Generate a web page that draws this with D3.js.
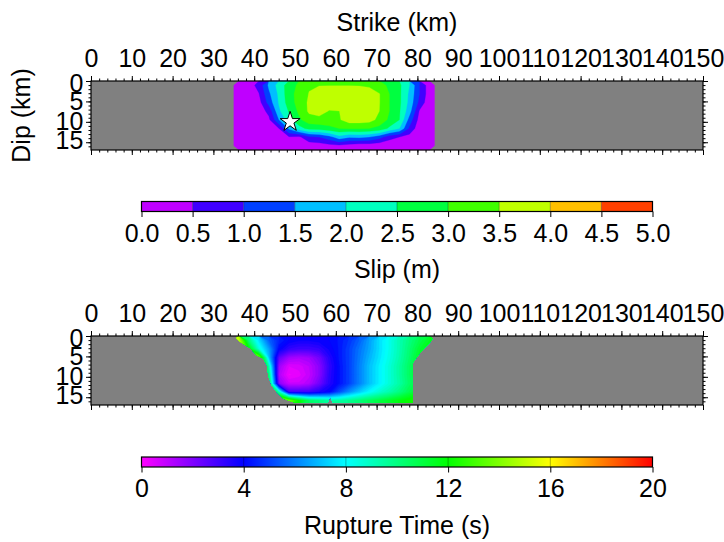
<!DOCTYPE html>
<html>
<head>
<meta charset="utf-8">
<script src="https://cdn.jsdelivr.net/npm/d3@7"></script>
<style>
  html, body { margin: 0; background: #fff; }
  text { font-family: "Liberation Sans", Arial, Helvetica, sans-serif; }
</style>
</head>
<body>
<svg id="chart" width="724" height="542"></svg>
<script>
// ---- data ----
const strikeTicks = d3.range(0, 151, 10);
const dipTicks = [0, 5, 10, 15];
const slipTicks = d3.range(0, 5.01, 0.5);
const timeTicks = [0, 4, 8, 12, 16, 20];

// fault grid: 20 cells along strike (35 -> 84.2 km), 8 cells down dip (0 -> 16.9 km)
const faultStrike = [35, 84.2];
const faultDip = [0, 16.9];

// slip (m), row 0 = shallowest
const slipRows = [
  [0.10, 0.30, 0.65, 1.60, 2.20, 2.75, 3.10, 3.45, 3.48, 3.48, 3.48, 3.48, 3.47, 3.42, 3.20, 2.90, 2.60, 2.00, 1.00, 0.20],
  [0.05, 0.20, 0.48, 1.40, 2.10, 2.80, 3.20, 3.52, 3.75, 3.80, 3.90, 3.90, 3.85, 3.75, 3.52, 3.00, 2.60, 1.90, 1.00, 0.20],
  [0.05, 0.15, 0.30, 1.20, 2.05, 2.75, 3.20, 3.58, 3.80, 3.75, 3.90, 3.95, 3.90, 3.80, 3.52, 3.00, 2.60, 1.85, 0.85, 0.15],
  [0.03, 0.10, 0.20, 0.65, 1.90, 2.55, 3.10, 3.58, 3.70, 3.47, 3.49, 3.90, 3.90, 3.80, 3.50, 3.00, 2.55, 1.70, 0.45, 0.10],
  [0.02, 0.05, 0.12, 0.40, 1.50, 2.30, 2.90, 3.30, 3.35, 3.35, 3.45, 3.75, 3.75, 3.70, 3.35, 2.90, 2.50, 1.30, 0.30, 0.05],
  [0.02, 0.03, 0.08, 0.20, 0.50, 1.60, 2.30, 2.65, 2.70, 2.85, 3.00, 3.05, 3.05, 3.00, 2.85, 2.40, 2.00, 0.90, 0.15, 0.03],
  [0.01, 0.02, 0.05, 0.08, 0.20, 0.45, 0.40, 0.90, 1.00, 1.30, 1.80, 1.55, 1.60, 1.50, 1.20, 0.70, 0.50, 0.30, 0.05, 0.02],
  [0.00, 0.01, 0.03, 0.04, 0.05, 0.10, 0.10, 0.20, 0.25, 0.35, 0.40, 0.30, 0.20, 0.20, 0.15, 0.10, 0.05, 0.03, 0.02, 0.01]
];

// rupture time (s), same grid
const timeRows = [
  [15, 10, 7.5, 5.5, 4.5, 4.0, 3.8, 3.8, 3.9, 4.0, 4.3, 4.8, 5.5, 6.5, 7.5, 8.3, 9.2, 10.0, 10.8, 11.5],
  [16, 12, 8.5, 6.5, 4.0, 3.2, 3.0, 3.0, 3.2, 3.8, 4.3, 5.0, 5.8, 6.6, 7.5, 8.3, 9.2, 10.2, 11.2, 12.0],
  [17, 18, 14, 7.0, 2.5, 1.5, 1.3, 1.5, 2.2, 3.4, 4.3, 5.0, 5.9, 6.8, 7.6, 8.4, 9.3, 10.3, 11.5, 12.5],
  [17, 17, 16, 9.0, 1.5, 0.5, 0.6, 1.0, 1.8, 3.2, 4.2, 5.0, 6.0, 7.0, 7.8, 8.6, 9.5, 10.5, 11.5, 12.5],
  [17, 17, 16, 10, 1.2, 0.2, 0.4, 0.9, 1.8, 3.3, 4.2, 5.0, 6.0, 7.0, 7.8, 8.6, 9.5, 10.5, 11.5, 12.5],
  [17, 17, 16, 11, 1.8, 0.8, 0.8, 1.2, 2.2, 3.4, 4.2, 5.0, 6.0, 7.0, 7.8, 8.6, 9.4, 10.4, 11.2, 12.0],
  [17, 17, 16, 14, 9.0, 3.0, 3.0, 3.0, 3.5, 4.0, 5.2, 6.3, 7.2, 8.0, 8.7, 9.3, 10.0, 10.8, 11.5, 12.0],
  [17, 17, 17, 16, 15, 14, 12, 10.5, 10, 9.5, 9.5, 9.8, 10.2, 10.6, 11.0, 11.4, 11.8, 12.2, 12.5, 12.5]
];

// outline of the area that ruptured (strike km, dip km)
const ruptureEdgeStrike = [35.1, 36.5, 39.0, 40.6, 42.2, 43.1, 43.5, 44.3, 45.5, 47.1, 49.6, 51.0, 58.0, 58.6, 59.3, 78.9, 78.9, 79.4, 80.6, 81.8, 83.0, 84.2];
const ruptureEdgeDip    = [0.0, 1.4, 3.0, 4.7, 5.5, 7.1, 10.0, 12.1, 13.7, 15.3, 16.2, 16.4, 16.4, 14.9, 16.4, 16.4, 6.7, 5.8, 4.2, 2.9, 1.7, 0.0];

const hypocenter = [48.8, 10.0];

// ---- drawing ----
const svg = d3.select("#chart");
const defs = svg.append("defs");
const FONT = 25;

const x = d3.scaleLinear().domain([0, 150]).range([91, 703]);

// GMT-like rainbow
const rainbowColors = ["#ff00ff", "#0000ff", "#00ffff", "#00ff00", "#ffff00", "#ff0000"];
const slipColor = d3.scaleLinear().domain([0, 1, 2, 3, 4, 5]).range(rainbowColors);
const timeColor = d3.scaleLinear().domain(timeTicks).range(rainbowColors);

function styleAxis(a) {
  a.select(".domain").remove();
  a.attr("font-size", FONT).attr("font-family", null);
  a.selectAll(".tick line").attr("stroke-width", 1);
}

function drawPanel(top) {
  const y = d3.scaleLinear().domain([0, faultDip[1]]).range([top, top + 69]);
  const g = svg.append("g");

  g.append("rect")
    .attr("x", x(0)).attr("y", y(0))
    .attr("width", x(150) - x(0)).attr("height", y(faultDip[1]) - y(0))
    .attr("fill", "#808080");

  return { g, y };
}

function drawFrame(g, y) {
  g.append("rect")
    .attr("x", x(0)).attr("y", y(0))
    .attr("width", x(150) - x(0)).attr("height", y(faultDip[1]) - y(0))
    .attr("fill", "none").attr("stroke", "#000").attr("stroke-width", 1.2);

  const yTop = y(0), yBot = y(faultDip[1]);

  g.append("g").attr("transform", `translate(0,${yTop})`)
    .call(d3.axisTop(x).tickValues(strikeTicks).tickSize(5).tickPadding(9.5))
    .call(styleAxis);
  g.append("g").attr("transform", `translate(0,${yTop})`)
    .call(d3.axisTop(x).tickValues(d3.range(0, 151, 2)).tickSize(2.5).tickFormat(""))
    .call(styleAxis);
  g.append("g").attr("transform", `translate(0,${yBot})`)
    .call(d3.axisBottom(x).tickValues(strikeTicks).tickSize(5).tickFormat(""))
    .call(styleAxis);
  g.append("g").attr("transform", `translate(0,${yBot})`)
    .call(d3.axisBottom(x).tickValues(d3.range(0, 151, 2)).tickSize(2.5).tickFormat(""))
    .call(styleAxis);

  // dip labels sit a little closer together than their ticks, as in the source plot
  g.append("g").attr("transform", `translate(${x(0)},0)`)
    .call(d3.axisLeft(y).tickValues(dipTicks).tickSize(5).tickPadding(2.7))
    .call(styleAxis)
    .call(a => a.selectAll(".tick text").attr("y", d => d === 0 ? 2 : d === 15 ? -2 : 0));
  g.append("g").attr("transform", `translate(${x(0)},0)`)
    .call(d3.axisLeft(y).tickValues(d3.range(0, 17, 1)).tickSize(2.5).tickFormat(""))
    .call(styleAxis);
  g.append("g").attr("transform", `translate(${x(150)},0)`)
    .call(d3.axisRight(y).tickValues(dipTicks).tickSize(5).tickFormat(""))
    .call(styleAxis);
  g.append("g").attr("transform", `translate(${x(150)},0)`)
    .call(d3.axisRight(y).tickValues(d3.range(0, 17, 1)).tickSize(2.5).tickFormat(""))
    .call(styleAxis);
}

function drawField(g, y, rows, thresholds, fill) {
  const ny = rows.length, nx = rows[0].length;
  const dx = (faultStrike[1] - faultStrike[0]) / nx;
  const dy = (faultDip[1] - faultDip[0]) / ny;
  const proj = d3.geoTransform({
    point(px, py) { this.stream.point(x(faultStrike[0] + px * dx), y(faultDip[0] + py * dy)); }
  });
  const path = d3.geoPath(proj);
  const bands = d3.contours().size([nx, ny]).thresholds(thresholds)(rows.flat());
  g.selectAll(null).data(bands).join("path")
    .attr("d", path)
    .attr("fill", d => fill(d.value))
    .attr("stroke", d => fill(d.value))
    .attr("stroke-width", 0.3);
}

// --- slip panel ---
{
  const { g, y } = drawPanel(81);
  const step = 0.5;
  drawField(g, y, slipRows, d3.range(0, 5, step), v => slipColor(v + step / 2));

  g.append("path")
    .attr("transform", `translate(${x(hypocenter[0])},${y(hypocenter[1])})`)
    .attr("d", d3.symbol(d3.symbolStar, 124)())
    .attr("fill", "#fff").attr("stroke", "#000").attr("stroke-width", 1);

  drawFrame(g, y);

  svg.append("text")
    .attr("x", (x(0) + x(150)) / 2).attr("y", 30.5)
    .attr("text-anchor", "middle").attr("font-size", FONT)
    .text("Strike (km)");
  svg.append("text")
    .attr("transform", `translate(30,${(y(0) + y(faultDip[1])) / 2}) rotate(-90)`)
    .attr("text-anchor", "middle").attr("font-size", FONT)
    .text("Dip (km)");
}

// --- rupture time panel ---
{
  const { g, y } = drawPanel(336);
  const edge = d3.zip(ruptureEdgeStrike, ruptureEdgeDip);
  defs.append("clipPath").attr("id", "rupture-clip")
    .append("path")
    .attr("d", d3.line().x(d => x(d[0])).y(d => y(d[1]))(edge) + "Z");

  const step = 0.25;
  const field = g.append("g").attr("clip-path", "url(#rupture-clip)");
  drawField(field, y, timeRows, d3.range(0, 20, step), v => timeColor(v + step / 2));

  drawFrame(g, y);
}

// --- colour bars ---
const cb = d3.scaleLinear().range([141.5, 652.5]);

function colorbarFrame(top, scale, ticks, fmt, title) {
  const g = svg.append("g");
  // faint separators at the annotated values
  g.selectAll(null).data(ticks.slice(1, -1)).join("line")
    .attr("x1", d => scale(d)).attr("x2", d => scale(d))
    .attr("y1", top).attr("y2", top + 10)
    .attr("stroke", "#000").attr("stroke-opacity", 0.3);
  g.append("rect")
    .attr("x", scale.range()[0]).attr("y", top)
    .attr("width", scale.range()[1] - scale.range()[0]).attr("height", 10)
    .attr("fill", "none").attr("stroke", "#000").attr("stroke-width", 1.2);
  g.append("g").attr("transform", `translate(0,${top + 10})`)
    .call(d3.axisBottom(scale).tickValues(ticks).tickFormat(fmt).tickSize(5.5).tickPadding(6.8))
    .call(styleAxis);
  svg.append("text")
    .attr("x", (scale.range()[0] + scale.range()[1]) / 2).attr("y", top + 76.5)
    .attr("text-anchor", "middle").attr("font-size", FONT)
    .text(title);
}

{
  const top = 201.5;
  const s = cb.copy().domain([0, 5]);
  const bins = d3.range(0, 5, 0.5);
  svg.append("g").selectAll("rect").data(bins).join("rect")
    .attr("x", d => s(d)).attr("y", top)
    .attr("width", d => s(d + 0.5) - s(d)).attr("height", 10)
    .attr("fill", d => slipColor(d + 0.25));
  colorbarFrame(top, s, slipTicks, d3.format(".1f"), "Slip (m)");
}

{
  const top = 457;
  const s = cb.copy().domain([0, 20]);
  const grad = defs.append("linearGradient").attr("id", "time-grad");
  grad.selectAll("stop").data(timeTicks).join("stop")
    .attr("offset", d => d / 20)
    .attr("stop-color", d => timeColor(d));
  svg.append("rect")
    .attr("x", s(0)).attr("y", top)
    .attr("width", s(20) - s(0)).attr("height", 10)
    .attr("fill", "url(#time-grad)");
  colorbarFrame(top, s, timeTicks, d3.format("d"), "Rupture Time (s)");
}
</script>
</body>
</html>
